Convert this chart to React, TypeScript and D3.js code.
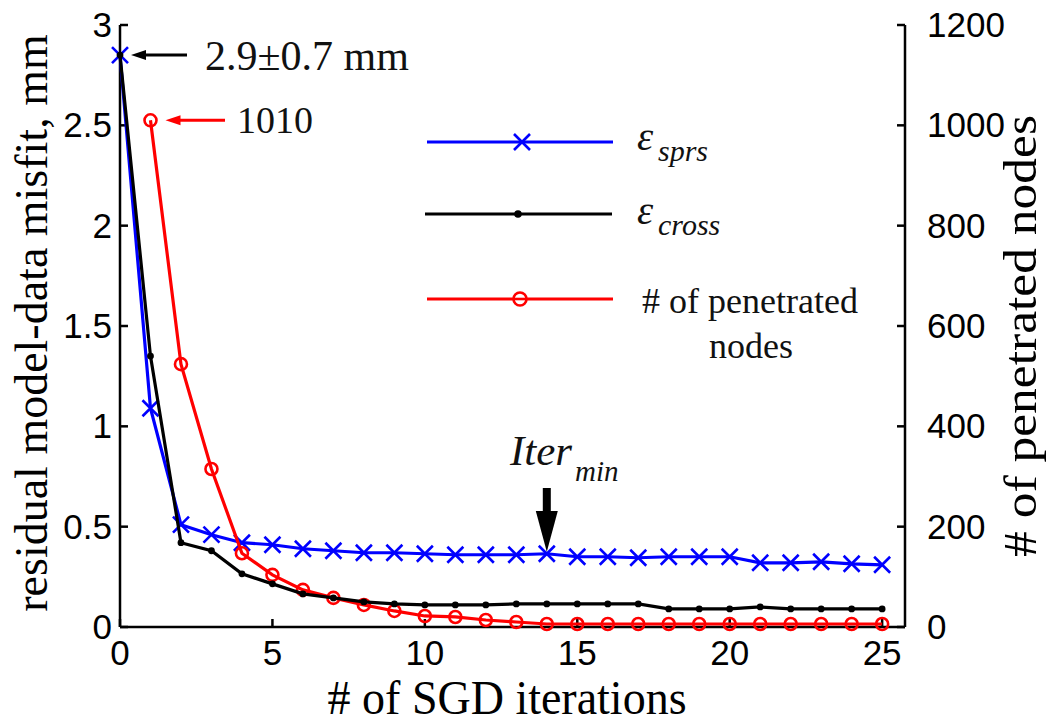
import React from "react";
import * as d3 from "d3";

const iterations = [0, 1, 2, 3, 4, 5, 6, 7, 8, 9, 10, 11, 12, 13, 14, 15, 16, 17, 18, 19, 20, 21, 22, 23, 24, 25];
const sprs = [2.85, 1.09, 0.51, 0.46, 0.42, 0.41, 0.39, 0.38, 0.37, 0.37, 0.365, 0.36, 0.36, 0.36, 0.365, 0.35, 0.35, 0.345, 0.35, 0.35, 0.35, 0.32, 0.32, 0.325, 0.315, 0.31];
const cross = [2.85, 1.35, 0.42, 0.38, 0.265, 0.215, 0.165, 0.145, 0.125, 0.115, 0.11, 0.11, 0.11, 0.115, 0.115, 0.115, 0.115, 0.115, 0.09, 0.09, 0.09, 0.1, 0.09, 0.09, 0.09, 0.09];
const penIterations = [1, 2, 3, 4, 5, 6, 7, 8, 9, 10, 11, 12, 13, 14, 15, 16, 17, 18, 19, 20, 21, 22, 23, 24, 25];
const penetrated = [1010, 524, 315, 147, 104, 74, 58, 44, 32, 22, 20, 14, 10, 6, 6, 6, 6, 6, 6, 6, 6, 6, 6, 6, 6];

const xTicks = [0, 5, 10, 15, 20, 25];
const yLeftTicks = [0, 0.5, 1, 1.5, 2, 2.5, 3];
const yLeftTickLabels = ["0", "0.5", "1", "1.5", "2", "2.5", "3"];
const yRightTicks = [0, 200, 400, 600, 800, 1000, 1200];

const SERIF = "'Liberation Serif', 'Times New Roman', serif";
const SANS = "'Liberation Sans', Arial, sans-serif";

export default function App() {
  const L = 120, R = 905, T = 25, B = 627;
  const x = d3.scaleLinear().domain([0, 25.75]).range([L, R]);
  const yL = d3.scaleLinear().domain([0, 3]).range([B, T]);
  const yR = d3.scaleLinear().domain([0, 1200]).range([B, T]);

  const lineL = d3.line<number>().x((_, i) => x(iterations[i])).y((d) => yL(d));
  const lineR = d3.line<number>().x((_, i) => x(penIterations[i])).y((d) => yR(d));

  const blue = "#0000ff", red = "#ff0000", blk = "#000000";
  const tickLen = 8;

  const xMark = (cx: number, cy: number, s: number, key: any) => (
    <path key={key} d={`M${cx - s},${cy - s}L${cx + s},${cy + s}M${cx - s},${cy + s}L${cx + s},${cy - s}`} stroke={blue} strokeWidth={2.6} fill="none" />
  );

  const arrowX = x(14);
  const annotY0 = yL(sprs[0]);
  const annotY1 = yR(penetrated[0]);

  return (
    <svg width={1050} height={726} style={{ position: "absolute", left: 0, top: 0, background: "#fff" }}>
      <rect x={0} y={0} width={1050} height={726} fill="#fff" />
      {/* axes */}
      <g stroke={blk} strokeWidth={2.5} fill="none">
        <line x1={L} y1={T} x2={L} y2={B} />
        <line x1={R} y1={T} x2={R} y2={B} />
        <line x1={L} y1={B} x2={R} y2={B} />
        {yLeftTicks.map((t) => <line key={"yl" + t} x1={L} x2={L + tickLen} y1={yL(t)} y2={yL(t)} />)}
        {yRightTicks.map((t) => <line key={"yr" + t} x1={R} x2={R - tickLen} y1={yR(t)} y2={yR(t)} />)}
        {xTicks.map((t) => <line key={"xt" + t} x1={x(t)} x2={x(t)} y1={B} y2={B - tickLen} />)}
      </g>
      {/* tick labels */}
      <g fontFamily={SANS} fontSize={35} fill={blk}>
        {yLeftTicks.map((t, i) => (
          <text key={"yll" + t} x={L - 8} y={yL(t) + 12} textAnchor="end">{yLeftTickLabels[i]}</text>
        ))}
        {yRightTicks.map((t) => (
          <text key={"yrl" + t} x={R + 22} y={yR(t) + 12} textAnchor="start">{t}</text>
        ))}
        {xTicks.map((t) => (
          <text key={"xl" + t} x={x(t)} y={B + 38} textAnchor="middle">{t}</text>
        ))}
      </g>
      {/* axis titles */}
      <text transform={`translate(${x(12.5) + 6},714) scale(1,1.06)`} textAnchor="middle" fontFamily={SERIF} fontSize={46} fill={blk}>
        # of SGD iterations
      </text>
      <text transform={`translate(47,323) rotate(-90)`} textAnchor="middle" fontFamily={SERIF} fontSize={46} fill={blk}>
        residual model-data misfit, mm
      </text>
      <text transform={`translate(1036,336) rotate(-90) scale(1.12,1)`} textAnchor="middle" fontFamily={SERIF} fontSize={46} fill={blk}>
        # of penetrated nodes
      </text>

      {/* series: blue */}
      <path d={lineL(sprs) || ""} stroke={blue} strokeWidth={3.2} fill="none" />
      {sprs.map((v, i) => xMark(x(iterations[i]), yL(v), 8, "bx" + i))}
      {/* red */}
      <path d={lineR(penetrated) || ""} stroke={red} strokeWidth={3.2} fill="none" />
      {penetrated.map((v, i) => (
        <circle key={"rc" + i} cx={x(penIterations[i])} cy={yR(v)} r={6} stroke={red} strokeWidth={2.6} fill="none" />
      ))}
      {/* black */}
      <path d={lineL(cross) || ""} stroke={blk} strokeWidth={3.2} fill="none" />
      {cross.map((v, i) => (
        <circle key={"kc" + i} cx={x(iterations[i])} cy={yL(v)} r={3.4} fill={blk} />
      ))}

      {/* annotation: 2.9±0.7 mm */}
      <line x1={187} x2={x(0) + 22} y1={annotY0} y2={annotY0} stroke={blk} strokeWidth={3} />
      <path d={`M${x(0) + 11},${annotY0}L${x(0) + 26},${annotY0 - 5}L${x(0) + 26},${annotY0 + 5}Z`} fill={blk} />
      <text x={205} y={annotY0 + 15} fontFamily={SERIF} fontSize={42} fill="#111">2.9±0.7 mm</text>

      {/* annotation: 1010 */}
      <line x1={225} x2={x(1) + 26} y1={annotY1} y2={annotY1} stroke={red} strokeWidth={3} />
      <path d={`M${x(1) + 15},${annotY1}L${x(1) + 30},${annotY1 - 5}L${x(1) + 30},${annotY1 + 5}Z`} fill={red} />
      <text x={237} y={annotY1 + 13} fontFamily={SERIF} fontSize={38} fill="#111">1010</text>

      {/* Iter_min annotation */}
      <text x={510} y={465} fontFamily={SERIF} fontStyle="italic" fontSize={43} fill="#111">Iter</text>
      <text x={575} y={481} fontFamily={SERIF} fontStyle="italic" fontSize={29} fill="#111">min</text>
      <rect x={arrowX - 4} y={488} width={8} height={26} fill={blk} />
      <path d={`M${arrowX - 11},${511}L${arrowX + 11},${511}L${arrowX},${yL(sprs[14]) - 2}Z`} fill={blk} />

      {/* legend */}
      <line x1={427} x2={613} y1={142} y2={142} stroke={blue} strokeWidth={3.2} />
      {xMark(522, 142, 8, "lgx")}
      <text x={637} y={150} fontFamily={SERIF} fontStyle="italic" fontSize={41} fill="#111">ε</text>
      <text x={658} y={161} fontFamily={SERIF} fontStyle="italic" fontSize={30} fill="#111">sprs</text>

      <line x1={425} x2={612} y1={214} y2={214} stroke={blk} strokeWidth={3.2} />
      <circle cx={518} cy={214} r={3.8} fill={blk} />
      <text x={637} y={224} fontFamily={SERIF} fontStyle="italic" fontSize={41} fill="#111">ε</text>
      <text x={658} y={235} fontFamily={SERIF} fontStyle="italic" fontSize={30} fill="#111">cross</text>

      <line x1={427} x2={613} y1={299} y2={299} stroke={red} strokeWidth={3.2} />
      <circle cx={520} cy={299} r={6.5} stroke={red} strokeWidth={2.6} fill="#fff" />
      <line x1={513} x2={527} y1={299} y2={299} stroke={red} strokeWidth={2.6} />
      <text x={750} y={313} textAnchor="middle" fontFamily={SERIF} fontSize={36} fill="#111">
        # of penetrated
      </text>
      <text x={751} y={358} textAnchor="middle" fontFamily={SERIF} fontSize={36} fill="#111">
        nodes
      </text>
    </svg>
  );
}
